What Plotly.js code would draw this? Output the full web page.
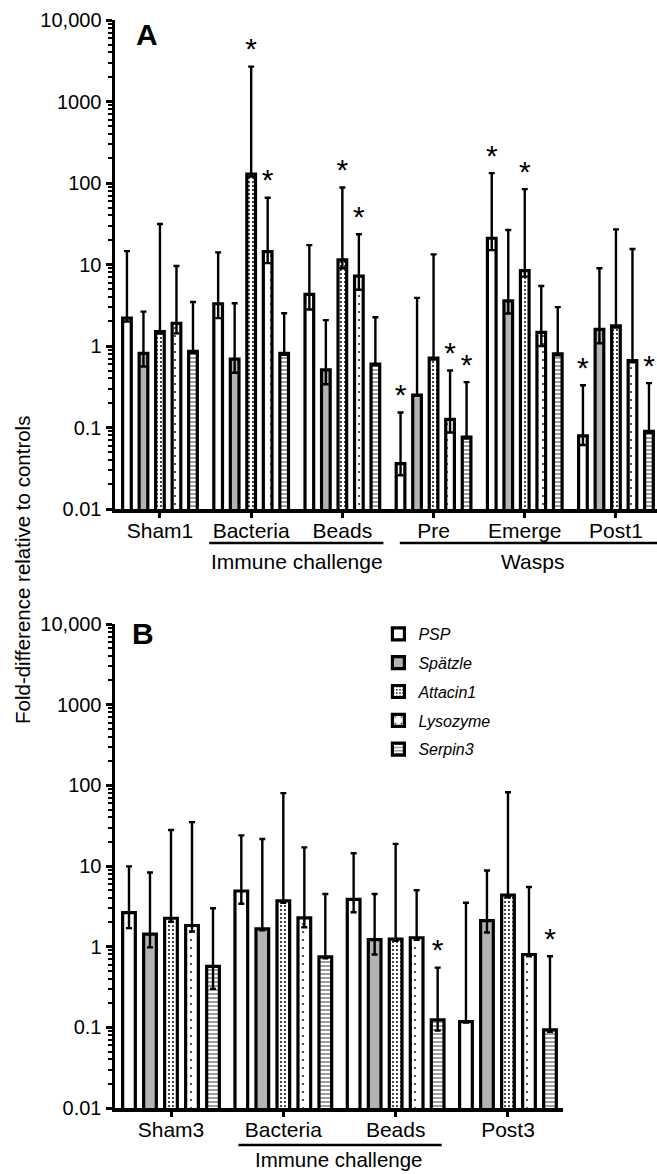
<!DOCTYPE html>
<html>
<head>
<meta charset="utf-8">
<script src="https://cdn.plot.ly/plotly-3.0.1.min.js"></script>
<style>html,body{margin:0;padding:0;background:#fff}#chart{width:657px;height:1174px}</style>
</head>
<body>
<div id="chart"></div>
<script>
// ---------- DATA ----------
const seriesNames = ['PSP', 'Spätzle', 'Attacin1', 'Lysozyme', 'Serpin3'];
const catsA = ['Sham1', 'Bacteria', 'Beads', 'Pre', 'Emerge', 'Post1'];
const catsB = ['Sham3', 'Bacteria', 'Beads', 'Post3'];
const yTickVals = [0.01, 0.1, 1, 10, 100, 1000, 10000];
const yTickText = ['0.01', '0.1', '1', '10', '100', '1000', '10,000'];

// Panel A: fold-difference, upper error end, lower error end, significance
const A_PSP        = [2.2, 3.3, 4.3, 0.036, 21, 0.079];
const A_PSP_hi     = [14.6, 14.1, 17.3, 0.153, 132, 0.33];
const A_PSP_lo     = [2.0, 2.2, 2.8, 0.026, 15, 0.061];
const A_PSP_sig    = [0, 0, 0, 1, 1, 1];
const A_Spz        = [0.81, 0.69, 0.51, 0.25, 3.57, 1.6];
const A_Spz_hi     = [2.64, 3.34, 2.08, 3.9, 26.5, 9.0];
const A_Spz_lo     = [0.56, 0.47, 0.34, 0.245, 2.5, 1.08];
const A_Spz_sig    = [0, 0, 0, 0, 0, 0];
const A_Att        = [1.5, 129, 11.4, 0.71, 8.4, 1.77];
const A_Att_hi     = [31.4, 2680, 88, 13.3, 84, 27];
const A_Att_lo     = [1.42, 120, 9.0, 0.68, 7.1, 1.68];
const A_Att_sig    = [0, 1, 1, 0, 1, 0];
const A_Lys        = [1.9, 14.4, 7.2, 0.126, 1.47, 0.66];
const A_Lys_hi     = [9.6, 66, 23.5, 0.50, 5.45, 15.5];
const A_Lys_lo     = [1.43, 10.4, 4.9, 0.087, 1.0, 0.63];
const A_Lys_sig    = [0, 1, 1, 1, 0, 0];
const A_Ser        = [0.86, 0.81, 0.6, 0.076, 0.8, 0.09];
const A_Ser_hi     = [3.46, 2.52, 2.25, 0.36, 3.0, 0.35];
const A_Ser_lo     = [0.82, 0.78, 0.58, 0.073, 0.77, 0.086];
const A_Ser_sig    = [0, 0, 0, 1, 0, 1];

// Panel B
const B_PSP        = [2.64, 4.9, 3.85, 0.118];
const B_PSP_hi     = [9.9, 24, 14.4, 3.5];
const B_PSP_lo     = [1.7, 3.4, 2.67, 0.115];
const B_PSP_sig    = [0, 0, 0, 0];
const B_Spz        = [1.43, 1.66, 1.22, 2.1];
const B_Spz_hi     = [8.3, 21.6, 4.5, 8.8];
const B_Spz_lo     = [0.98, 1.6, 0.8, 1.5];
const B_Spz_sig    = [0, 0, 0, 0];
const B_Att        = [2.25, 3.7, 1.24, 4.35];
const B_Att_hi     = [28, 80, 18.8, 82];
const B_Att_lo     = [2.04, 3.5, 1.18, 4.1];
const B_Att_sig    = [0, 0, 0, 0];
const B_Lys        = [1.83, 2.27, 1.29, 0.8];
const B_Lys_hi     = [35, 17, 5.0, 5.5];
const B_Lys_lo     = [1.54, 1.74, 1.22, 0.76];
const B_Lys_sig    = [0, 0, 0, 0];
const B_Ser        = [0.57, 0.75, 0.124, 0.093];
const B_Ser_hi     = [3.0, 4.5, 0.55, 0.76];
const B_Ser_lo     = [0.30, 0.72, 0.091, 0.088];
const B_Ser_sig    = [0, 0, 1, 1];

// ---------- STYLES ----------
const FONT = 'Liberation Sans, Arial, sans-serif';
const styles = [
  {color: '#ffffff', pattern: {shape: ''}},
  {color: '#b3b3b3', pattern: {shape: ''}},
  {color: '#ffffff', pattern: {shape: '.', fgcolor: '#000', bgcolor: '#fff', size: 4, solidity: 0.18}},
  {color: '#ffffff', pattern: {shape: '.', fgcolor: '#333', bgcolor: '#fff', size: 8, solidity: 0.06}},
  {color: '#ffffff', pattern: {shape: '-', fgcolor: '#222', bgcolor: '#fff', size: 4, solidity: 0.22}}
];

const panelA = [[A_PSP, A_PSP_hi, A_PSP_lo, A_PSP_sig], [A_Spz, A_Spz_hi, A_Spz_lo, A_Spz_sig],
  [A_Att, A_Att_hi, A_Att_lo, A_Att_sig], [A_Lys, A_Lys_hi, A_Lys_lo, A_Lys_sig], [A_Ser, A_Ser_hi, A_Ser_lo, A_Ser_sig]];
const panelB = [[B_PSP, B_PSP_hi, B_PSP_lo, B_PSP_sig], [B_Spz, B_Spz_hi, B_Spz_lo, B_Spz_sig],
  [B_Att, B_Att_hi, B_Att_lo, B_Att_sig], [B_Lys, B_Lys_hi, B_Lys_lo, B_Lys_sig], [B_Ser, B_Ser_hi, B_Ser_lo, B_Ser_sig]];

const traces = [];
function buildPanel(panel, cats, xa, ya, slot, width, legend) {
  const sx = [], sy = [];
  panel.forEach((s, i) => {
    const [v, hi, lo, sig] = s;
    const xs = cats.map((c, g) => g + (i - 2) * slot);
    traces.push({
      type: 'bar', x: xs, y: v, width: width, name: '<i>' + seriesNames[i] + '</i>',
      legendgroup: seriesNames[i], showlegend: legend, xaxis: xa, yaxis: ya,
      marker: {color: styles[i].color, pattern: styles[i].pattern, line: {color: '#000', width: 3.2}},
      error_y: {type: 'data', symmetric: false,
        array: v.map((val, k) => hi[k] - val), arrayminus: v.map((val, k) => val - lo[k]),
        color: '#000', thickness: 2.4, width: 3},
      hoverinfo: 'skip'
    });
    v.forEach((val, k) => { if (sig[k]) { sx.push(xs[k]); sy.push(hi[k]); } });
  });
  traces.push({type: 'scatter', mode: 'text', x: sx, y: sy, text: sx.map(() => '*'),
    textposition: 'top center', textfont: {family: FONT, size: 30, color: '#000'},
    xaxis: xa, yaxis: ya, showlegend: false, cliponaxis: false, hoverinfo: 'skip'});
}
buildPanel(panelA, catsA, 'x', 'y', 0.181, 0.095, false);
buildPanel(panelB, catsB, 'x2', 'y2', 0.187, 0.113, true);

const minorVals = [];
for (let e = -2; e < 4; e++) for (let m = 2; m <= 9; m++) minorVals.push(m * Math.pow(10, e));

function yaxis(domain, anchor) {
  return {type: 'log', range: [-2, 4], domain: domain, anchor: anchor,
    tickmode: 'array', tickvals: yTickVals, ticktext: yTickText,
    ticks: 'outside', ticklen: 6, tickwidth: 3, tickcolor: '#000',
    minor: {tickmode: 'array', tickvals: minorVals, ticks: 'outside', ticklen: 4, tickwidth: 2, tickcolor: '#000'},
    showline: true, linewidth: 3.5, linecolor: '#000', showgrid: false, zeroline: false,
    tickfont: {family: FONT, size: 20, color: '#000'}, automargin: false, fixedrange: true};
}
function xaxis(domain, anchor, range, cats) {
  return {type: 'linear', range: range, domain: domain, anchor: anchor,
    tickmode: 'array', tickvals: cats.map((c, i) => i), ticktext: cats,
    ticks: 'outside', ticklen: 5, tickwidth: 3, tickcolor: '#000', ticklabelstandoff: -5,
    showline: true, linewidth: 3.5, linecolor: '#000', showgrid: false, zeroline: false,
    tickfont: {family: FONT, size: 21, color: '#000'}, automargin: false, fixedrange: true};
}

const H = 1174;
const py = px => 1 - px / H;

const layout = {
  width: 657, height: 1174,
  margin: {l: 115, r: 0, t: 0, b: 0},
  paper_bgcolor: '#fff', plot_bgcolor: '#fff',
  font: {family: FONT, color: '#000'},
  barmode: 'overlay',
  xaxis: xaxis([0, 1], 'y', [-0.493, 5.45], catsA),
  yaxis: yaxis([py(509), py(20)], 'x'),
  xaxis2: xaxis([0, 0.8266], 'y2', [-0.4985, 3.49], catsB),
  yaxis2: yaxis([py(1108), py(624)], 'x2'),
  showlegend: true,
  legend: {x: 0.486, y: py(617), xanchor: 'left', yanchor: 'top', traceorder: 'grouped',
    tracegroupgap: 5, font: {family: FONT, size: 16, color: '#000'}, bgcolor: 'rgba(0,0,0,0)'},
  shapes: [
    {type: 'line', xref: 'x domain', yref: 'y', x0: 0, x1: 1, y0: 0, y1: 0,
      line: {color: '#000', width: 2, dash: 'dash'}, layer: 'below'},
    {type: 'line', xref: 'paper', yref: 'y2', x0: 0, x1: 0.8856, y0: 0, y1: 0,
      line: {color: '#000', width: 2, dash: 'dash'}, layer: 'below'},
    {type: 'line', xref: 'x', yref: 'paper', x0: 0.54, x1: 2.45, y0: py(543), y1: py(543), line: {color: '#000', width: 2.5}},
    {type: 'line', xref: 'x', yref: 'paper', x0: 2.63, x1: 5.45, y0: py(543), y1: py(543), line: {color: '#000', width: 2.5}},
    {type: 'line', xref: 'x2', yref: 'paper', x0: 0.6, x1: 2.41, y0: py(1145), y1: py(1145), line: {color: '#000', width: 2.5}}
  ],
  annotations: [
    {text: 'Immune challenge', xref: 'x', yref: 'paper', x: 1.5, y: py(561), showarrow: false, xanchor: 'center', yanchor: 'middle',
      font: {family: FONT, size: 21}},
    {text: 'Wasps', xref: 'x', yref: 'paper', x: 4.08, y: py(561), showarrow: false, xanchor: 'center', yanchor: 'middle',
      font: {family: FONT, size: 21}},
    {text: 'Immune challenge', xref: 'x2', yref: 'paper', x: 1.5, y: py(1159), showarrow: false, xanchor: 'center', yanchor: 'middle',
      font: {family: FONT, size: 20.5}},
    {text: '<b>A</b>', xref: 'paper', yref: 'paper', x: (147 - 115) / 542, y: py(35), showarrow: false,
      xanchor: 'center', yanchor: 'middle', font: {family: FONT, size: 30}},
    {text: '<b>B</b>', xref: 'paper', yref: 'paper', x: (143 - 115) / 542, y: py(633), showarrow: false,
      xanchor: 'center', yanchor: 'middle', font: {family: FONT, size: 30}},
    {text: 'Fold-difference relative to controls', xref: 'paper', yref: 'paper', x: (22 - 115) / 542, y: py(570),
      showarrow: false, textangle: -90, xanchor: 'center', yanchor: 'middle', font: {family: FONT, size: 20.5}}
  ]
};

Plotly.newPlot('chart', traces, layout, {staticPlot: true});
</script>
</body>
</html>
